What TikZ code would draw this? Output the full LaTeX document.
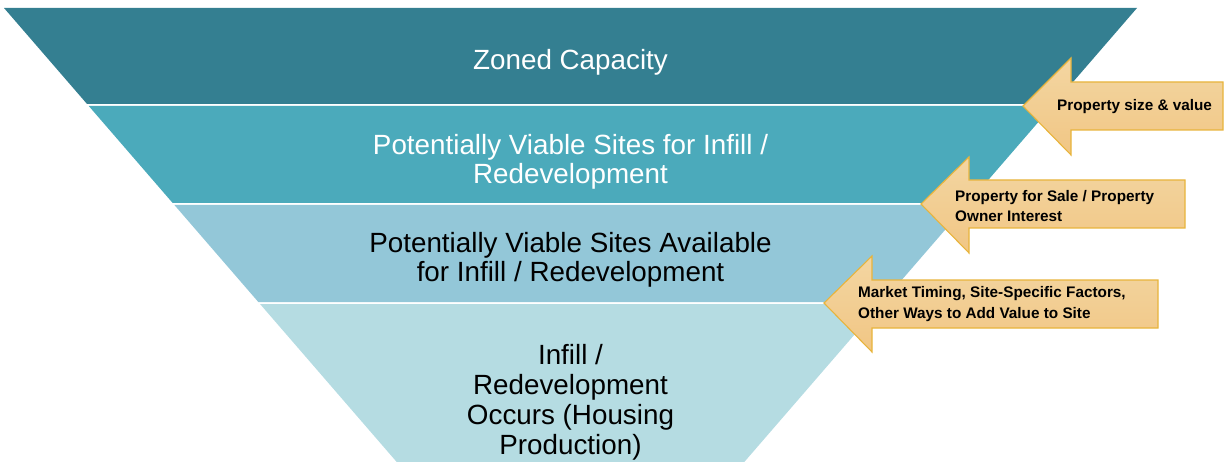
\documentclass[tikz,border=0pt]{standalone}
\usepackage{fontspec}
\setmainfont{Liberation Sans}
\definecolor{bandA}{HTML}{347F91}
\definecolor{bandB}{HTML}{4BAABB}
\definecolor{bandC}{HTML}{93C7D8}
\definecolor{bandD}{HTML}{B5DCE2}
\definecolor{arrTop}{HTML}{F3D6A2}
\definecolor{arrBot}{HTML}{F1C684}
\definecolor{arrLine}{HTML}{E8B43C}
\tikzset{
  bandtext/.style={align=center, font=\fontsize{27.8}{28.7}\selectfont, inner sep=0pt},
  arrowbox/.style={draw=arrLine, line width=1.1pt, top color=arrTop, bottom color=arrBot, line join=miter},
  arrowtext/.style={anchor=west, align=left, font=\fontsize{15.3}{20.5}\selectfont\bfseries, inner sep=0pt, text=black}
}
\begin{document}
\begin{tikzpicture}[x=1pt,y=-1pt]
\useasboundingbox (0,0) rectangle (1225,462);
% funnel bands: left x(y)=4+0.865(y-8), right x(y)=1137-0.865(y-8)
\fill[bandA] (4,8) -- (1137,8) -- (1053.96,104) -- (87.04,104) -- cycle;
\fill[bandB] (88.77,106) -- (1052.23,106) -- (968.33,203) -- (172.68,203) -- cycle;
\fill[bandC] (174.41,205) -- (966.60,205) -- (882.69,302) -- (258.31,302) -- cycle;
\fill[bandD] (260.04,304) -- (880.96,304) -- (744.29,462) -- (396.71,462) -- cycle;
% band texts
\node[bandtext, text=white] (zc) at (570.5,62) {Zoned Capacity};
\node[bandtext, text=white] (pv) at (570.5,161.5) {Potentially Viable Sites for Infill /\\Redevelopment};
\node[bandtext, text=black] (pa) at (570.5,260) {Potentially Viable Sites Available\\for Infill / Redevelopment};
\node[bandtext, text=black, font=\fontsize{27.8}{30}\selectfont] (ir) at (570.5,402) {Infill /\\Redevelopment\\Occurs (Housing\\Production)};
% arrows
\path[arrowbox] (1023,106) -- (1071,58) -- (1071,82) -- (1223,82) -- (1223,130) -- (1071,130) -- (1071,155) -- cycle;
\node[arrowtext] (a1) at (1057,107) {Property size \& value};
\path[arrowbox] (921,204) -- (969,157) -- (969,180) -- (1185,180) -- (1185,228) -- (969,228) -- (969,253) -- cycle;
\node[arrowtext] (a2) at (955,206) {Property for Sale / Property\\Owner Interest};
\path[arrowbox] (824,303) -- (872,256) -- (872,280) -- (1158,280) -- (1158,328) -- (872,328) -- (872,352) -- cycle;
\node[arrowtext] (a3) at (858,304) {Market Timing, Site-Specific Factors,\\Other Ways to Add Value to Site};
\end{tikzpicture}
\end{document}
